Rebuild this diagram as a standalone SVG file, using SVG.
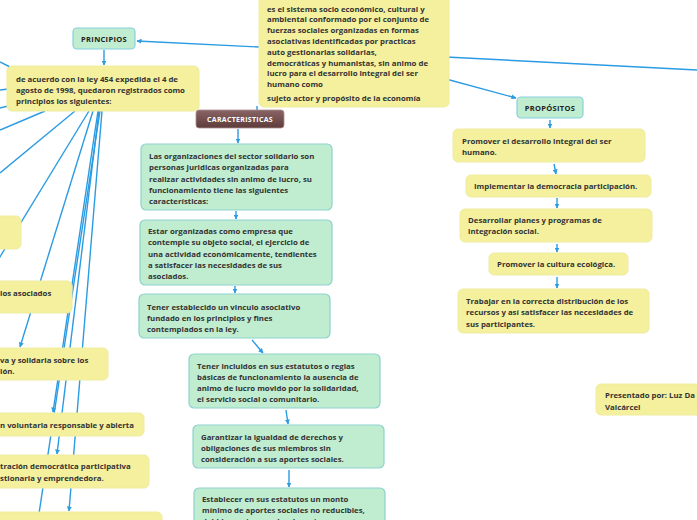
<svg xmlns="http://www.w3.org/2000/svg" width="697" height="520" viewBox="0 0 697 520">
<defs>
<marker id="ah" viewBox="0 0 10 10" refX="9" refY="5" markerWidth="5" markerHeight="5" orient="auto" markerUnits="userSpaceOnUse">
<path d="M0,0 L10,5 L0,10 z" fill="#2b9be2"/>
</marker>
<linearGradient id="brown" x1="0" y1="0" x2="0" y2="1">
<stop offset="0" stop-color="#8a6464"/>
<stop offset="1" stop-color="#5e3c3c"/>
</linearGradient>
<style>
.y{fill:#f4f09e;stroke:#f0eca0;stroke-width:1}
.g{fill:#c0ecd0;stroke:#8dd2cf;stroke-width:1.2}
.t{font-family:"Open Sans","Noto Sans",sans-serif;font-weight:700;font-size:7.8px;fill:#333}
.h{font-family:"Open Sans","Noto Sans",sans-serif;font-weight:700;font-size:7.5px;fill:#222;letter-spacing:0.3px}
.c{stroke:#2b9be2;stroke-width:1.4;fill:none}
.ca{stroke:#2b9be2;stroke-width:1.4;fill:none;marker-end:url(#ah)}
</style>
</defs>
<rect width="697" height="520" fill="#ffffff"/>

<g id="connectors">
<line class="ca" x1="259" y1="47" x2="137" y2="41"/>
<line class="c" x1="446" y1="57" x2="697" y2="70"/>
<line class="ca" x1="446" y1="79" x2="516" y2="98"/>
<line class="c" x1="257" y1="106" x2="257" y2="110"/>
<line class="ca" x1="104" y1="50" x2="104" y2="65"/>
<line class="ca" x1="238" y1="129" x2="238" y2="143"/>
<line class="ca" x1="236" y1="211" x2="236" y2="219"/>
<line class="ca" x1="235" y1="286" x2="235" y2="293"/>
<line class="ca" x1="252" y1="340" x2="263" y2="353"/>
<line class="ca" x1="286" y1="410" x2="288" y2="424"/>
<line class="ca" x1="289" y1="470" x2="289" y2="487"/>
<line class="ca" x1="550" y1="120" x2="550" y2="128"/>
<line class="ca" x1="554" y1="164" x2="556" y2="174"/>
<line class="ca" x1="557" y1="198" x2="557" y2="208"/>
<line class="ca" x1="557" y1="244" x2="557" y2="252"/>
<line class="ca" x1="557" y1="277" x2="557" y2="288"/>
<line class="c" x1="10" y1="67" x2="0" y2="62"/>
<line class="c" x1="8" y1="89" x2="0" y2="90"/>
<line class="c" x1="8" y1="106" x2="0" y2="108"/>
<line class="c" x1="45" y1="111" x2="0" y2="130"/>
<line class="c" x1="75" y1="111" x2="0" y2="173"/>
<line class="c" x1="89" y1="111" x2="-5" y2="265"/>
<line class="ca" x1="93" y1="111" x2="20" y2="347"/>
<line class="ca" x1="98" y1="111" x2="53" y2="412"/>
<line class="ca" x1="99" y1="111" x2="57" y2="454"/>
<line class="c" x1="100" y1="111" x2="35" y2="540"/>
<line class="ca" x1="102" y1="111" x2="69" y2="511"/>
</g>

<g id="n-center">
<rect class="y" x="259" y="-6" width="190" height="113" rx="5"/>
<text class="t" x="267" y="11.5">es el sistema socio económico, cultural y</text>
<text class="t" x="267" y="22.3">ambiental conformado por el conjunto de</text>
<text class="t" x="267" y="33.1">fuerzas sociales organizadas en formas</text>
<text class="t" x="267" y="43.9">asociativas identificadas por practicas</text>
<text class="t" x="267" y="54.7">auto gestionarias solidarias,</text>
<text class="t" x="267" y="65.5">democráticas y humanistas, sin animo de</text>
<text class="t" x="267" y="76.3">lucro para el desarrollo integral del ser</text>
<text class="t" x="267" y="87.1">humano como</text>
<text class="t" x="267" y="100.5">sujeto actor y propósito de la economía</text>
</g>

<g id="n-principios">
<rect x="73" y="28" width="62" height="21" rx="4" fill="#c0ecd0" stroke="#86d0e0" stroke-width="1.2"/>
<text class="h" x="104" y="41.5" text-anchor="middle">PRINCIPIOS</text>
</g>

<g id="n-ley">
<rect class="y" x="7" y="66" width="192" height="45" rx="5"/>
<text class="t" x="16" y="82">de acuerdo con la ley 454 expedida el 4 de</text>
<text class="t" x="16" y="93">agosto de 1998, quedaron registrados como</text>
<text class="t" x="16" y="104">principios los siguientes:</text>
</g>

<g id="n-l1"><rect class="y" x="-10" y="216" width="31" height="33" rx="5"/></g>
<g id="n-l2"><rect class="y" x="-10" y="281" width="82" height="32" rx="5"/>
<text class="t" x="0" y="295.5">los asociados</text></g>
<g id="n-l3"><rect class="y" x="-10" y="348" width="118" height="32" rx="5"/>
<text class="t" x="0" y="362.5">va y solidaria sobre los</text>
<text class="t" x="0" y="374">ión.</text></g>
<g id="n-l4"><rect class="y" x="-10" y="413" width="154" height="23" rx="5"/>
<text class="t" x="0" y="427.5">n voluntaria responsable y abierta</text></g>
<g id="n-l5"><rect class="y" x="-10" y="455" width="159" height="33" rx="5"/>
<text class="t" x="0" y="469">tración democrática participativa</text>
<text class="t" x="0" y="480.5">stionaria y emprendedora.</text></g>
<g id="n-l6"><rect class="y" x="-10" y="512" width="172" height="20" rx="5"/></g>

<g id="n-caract">
<rect x="196" y="110" width="88" height="18" rx="3" fill="url(#brown)" stroke="#b09090" stroke-width="0.8"/>
<text x="240" y="122" text-anchor="middle" font-family="Open Sans, Noto Sans, sans-serif" font-weight="700" font-size="7px" fill="#ffffff" letter-spacing="0.3">CARACTERISTICAS</text>
</g>

<g id="n-g1">
<rect class="g" x="141" y="144" width="191" height="66" rx="5"/>
<text class="t" x="149" y="159">Las organizaciones del sector solidario son</text>
<text class="t" x="149" y="170.3">personas juridicas organizadas para</text>
<text class="t" x="149" y="181.6">realizar actividades sin animo de lucro, su</text>
<text class="t" x="149" y="192.9">funcionamiento tiene las siguientes</text>
<text class="t" x="149" y="204.2">características:</text>
</g>

<g id="n-g2">
<rect class="g" x="140" y="220" width="192" height="65" rx="5"/>
<text class="t" x="148" y="234">Estar organizadas como empresa que</text>
<text class="t" x="148" y="245.3">contemple su objeto social, el ejercicio de</text>
<text class="t" x="148" y="256.6">una actividad económicamente, tendientes</text>
<text class="t" x="148" y="267.9">a satisfacer las necesidades de sus</text>
<text class="t" x="148" y="279.2">asociados.</text>
</g>

<g id="n-g3">
<rect class="g" x="139" y="294" width="191" height="44" rx="5"/>
<text class="t" x="147" y="309.5">Tener establecido un vinculo asociativo</text>
<text class="t" x="147" y="320.8">fundado en los principios y fines</text>
<text class="t" x="147" y="332.1">contemplados en la ley.</text>
</g>

<g id="n-g4">
<rect class="g" x="189" y="354" width="191" height="54" rx="5"/>
<text class="t" x="197" y="368.5">Tener incluidos en sus estatutos o reglas</text>
<text class="t" x="197" y="379.8">básicas de funcionamiento la ausencia de</text>
<text class="t" x="197" y="391.1">animo de lucro movido por la solidaridad,</text>
<text class="t" x="197" y="402.4">el servicio social o comunitario.</text>
</g>

<g id="n-g5">
<rect class="g" x="193" y="425" width="191" height="43" rx="5"/>
<text class="t" x="201" y="439.5">Garantizar la igualdad de derechos y</text>
<text class="t" x="201" y="450.8">obligaciones de sus miembros sin</text>
<text class="t" x="201" y="462.1">consideración a sus aportes sociales.</text>
</g>

<g id="n-g6">
<rect class="g" x="194" y="488" width="191" height="50" rx="5"/>
<text class="t" x="202" y="502">Establecer en sus estatutos un monto</text>
<text class="t" x="202" y="513.3">mínimo de aportes sociales no reducibles,</text>
<text class="t" x="202" y="523.5">debidamente pagados durante su</text>
</g>

<g id="n-propositos">
<rect x="517" y="97" width="66" height="21" rx="4" fill="#c0ecd0" stroke="#86d0e0" stroke-width="1.2"/>
<text class="h" x="550" y="110.5" text-anchor="middle">PROPÓSITOS</text>
</g>

<g id="n-p1">
<rect class="y" x="453" y="129" width="192" height="33" rx="5"/>
<text class="t" x="462" y="144">Promover el desarrollo integral del ser</text>
<text class="t" x="462" y="155.3">humano.</text>
</g>
<g id="n-p2">
<rect class="y" x="466" y="175" width="185" height="22" rx="5"/>
<text class="t" x="474" y="189">Implementar la democracia participación.</text>
</g>
<g id="n-p3">
<rect class="y" x="460" y="209" width="192" height="33" rx="5"/>
<text class="t" x="468" y="223">Desarrollar planes y programas de</text>
<text class="t" x="468" y="234.3">integración social.</text>
</g>
<g id="n-p4">
<rect class="y" x="489" y="253" width="139" height="22" rx="5"/>
<text class="t" x="497" y="267">Promover la cultura ecológica.</text>
</g>
<g id="n-p5">
<rect class="y" x="458" y="289" width="191" height="44" rx="5"/>
<text class="t" x="466" y="304">Trabajar en la correcta distribución de los</text>
<text class="t" x="466" y="315.3">recursos y así satisfacer las necesidades de</text>
<text class="t" x="466" y="326.6">sus participantes.</text>
</g>

<g id="n-presentado">
<rect class="y" x="596" y="384" width="110" height="31" rx="5"/>
<text class="t" x="605" y="398">Presentado por: Luz Da</text>
<text class="t" x="605" y="409.5">Valcárcel</text>
</g>
</svg>
